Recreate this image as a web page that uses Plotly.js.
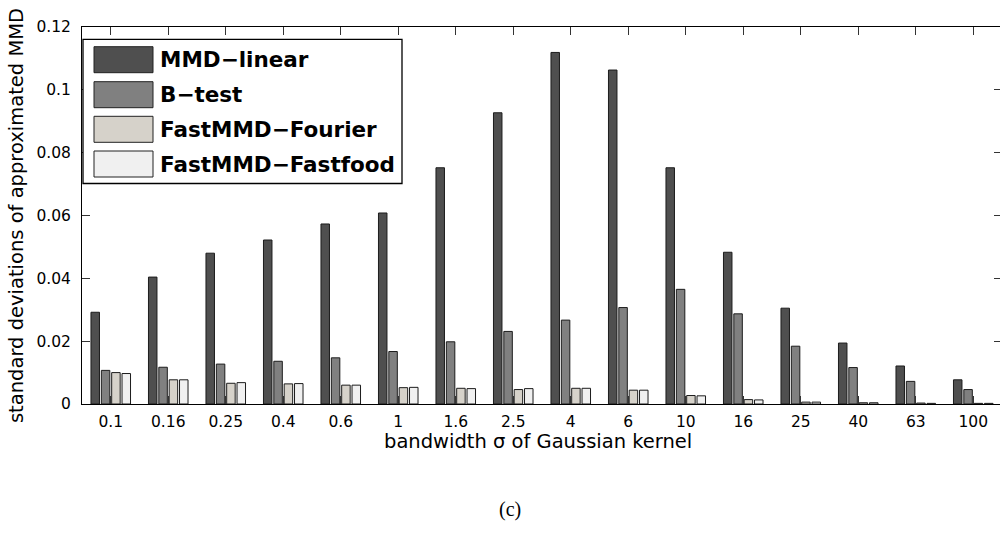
<!DOCTYPE html>
<html>
<head>
<meta charset="utf-8">
<script src="https://cdn.plot.ly/plotly-3.0.1.min.js"></script>
<style>
html,body{margin:0;padding:0;overflow:hidden;background:#fff;}
#chart{width:1002px;height:535px;}
</style>
</head>
<body>
<div id="chart"></div>
<script>
// ---- data ----
const sigmaLabels = ['0.1','0.16','0.25','0.4','0.6','1','1.6','2.5','4','6','10','16','25','40','63','100'];
const seriesNames = ['MMD\u2212linear','B\u2212test','FastMMD\u2212Fourier','FastMMD\u2212Fastfood'];
const mmdLinear = [0.0292,0.0404,0.0480,0.0522,0.0573,0.0608,0.0752,0.0927,0.1119,0.1063,0.0752,0.0483,0.0305,0.0194,0.0121,0.0077];
const bTest     = [0.0107,0.0117,0.0127,0.0136,0.0147,0.0167,0.0198,0.0231,0.0267,0.0307,0.0365,0.0287,0.0184,0.0116,0.0072,0.0046];
const fourier   = [0.0100,0.0077,0.0066,0.0064,0.0060,0.0052,0.0050,0.0046,0.0050,0.0044,0.0027,0.0014,0.0006,0.0004,0.0003,0.0002];
const fastfood  = [0.0097,0.0077,0.0068,0.0065,0.0060,0.0053,0.0049,0.0049,0.0050,0.0044,0.0026,0.0013,0.0006,0.0004,0.0002,0.0002];
const yTicks = [0,0.02,0.04,0.06,0.08,0.1,0.12];

// ---- style ----
const colors = ['#4f4f4f','#808080','#d6d2ca','#f0f0f0'];
const seriesValues = [mmdLinear,bTest,fourier,fastfood];

const W = 1002, H = 535, L = 82, R = 0, T = 27, B = 131;
const px2x = p => (p - L) / (W - L - R);
const py2y = p => (H - B - p) / (H - T - B);

const traces = seriesValues.map((vals,i) => ({
  type:'bar',
  x: sigmaLabels,
  y: vals,
  name: seriesNames[i],
  showlegend:false,
  marker:{color:colors[i], line:{color:'#1c1c1c', width:1}},
  hoverinfo:'x+y+name'
}));

// custom legend (large swatches like the reference)
const rowY = [59.7, 94.7, 129.3, 164];
const shapes = [{
  type:'rect', xref:'paper', yref:'paper', layer:'above',
  x0:px2x(83), x1:px2x(402), y0:py2y(183.5), y1:py2y(39.3),
  line:{color:'#000', width:1.3}, fillcolor:'#fff'
}];
const annotations = [];
seriesNames.forEach((n,i) => {
  shapes.push({
    type:'rect', xref:'paper', yref:'paper', layer:'above',
    x0:px2x(94), x1:px2x(153), y0:py2y(rowY[i]+13), y1:py2y(rowY[i]-13),
    line:{color:'#222', width:1}, fillcolor:colors[i]
  });
  annotations.push({
    xref:'paper', yref:'paper', x:px2x(158), y:py2y(rowY[i]),
    xanchor:'left', yanchor:'middle', showarrow:false, text:n,
    font:{family:'DejaVu Sans', size:21.5, weight:'bold', color:'#000'}
  });
});
// x-axis title and caption
annotations.push({
  xref:'paper', yref:'paper', x:px2x(538), y:py2y(441),
  xanchor:'center', yanchor:'middle', showarrow:false,
  text:'bandwidth \u03c3 of Gaussian kernel',
  font:{family:'DejaVu Sans', size:19.5, color:'#000'}
});
annotations.push({
  xref:'paper', yref:'paper', x:px2x(510), y:py2y(509),
  xanchor:'center', yanchor:'middle', showarrow:false,
  text:'(c)',
  font:{family:'Liberation Serif', size:20, color:'#000'}
});

const layout = {
  width:W, height:H,
  margin:{l:L, r:R, t:T, b:B, pad:0},
  paper_bgcolor:'#fff', plot_bgcolor:'#fff',
  barmode:'group', bargap:0.28, bargroupgap:0.18,
  font:{family:'DejaVu Sans', color:'#000'},
  xaxis:{
    type:'category', range:[-0.5,15.5], fixedrange:true,
    showline:true, linecolor:'#000', linewidth:1, mirror:'ticks',
    ticks:'inside', ticklen:8, tickcolor:'#333', tickwidth:1,
    showgrid:false, zeroline:false,
    tickfont:{family:'DejaVu Sans', size:15.5, color:'#000'},
    ticklabelstandoff:3
  },
  yaxis:{
    range:[0,0.12], tickvals:yTicks, ticktext:yTicks.map(v=>String(v)), fixedrange:true,
    showline:true, linecolor:'#000', linewidth:1, mirror:'ticks',
    ticks:'inside', ticklen:8, tickcolor:'#333', tickwidth:1,
    showgrid:false, zeroline:false,
    tickfont:{family:'DejaVu Sans', size:15.5, color:'#000'},
    ticklabelstandoff:7,
    title:{text:'standard deviations of approximated MMD', standoff:7,
           font:{family:'DejaVu Sans', size:19.5, color:'#000'}}
  },
  shapes:shapes,
  annotations:annotations
};

Plotly.newPlot('chart', traces, layout, {displayModeBar:false, staticPlot:true});
</script>
</body>
</html>
